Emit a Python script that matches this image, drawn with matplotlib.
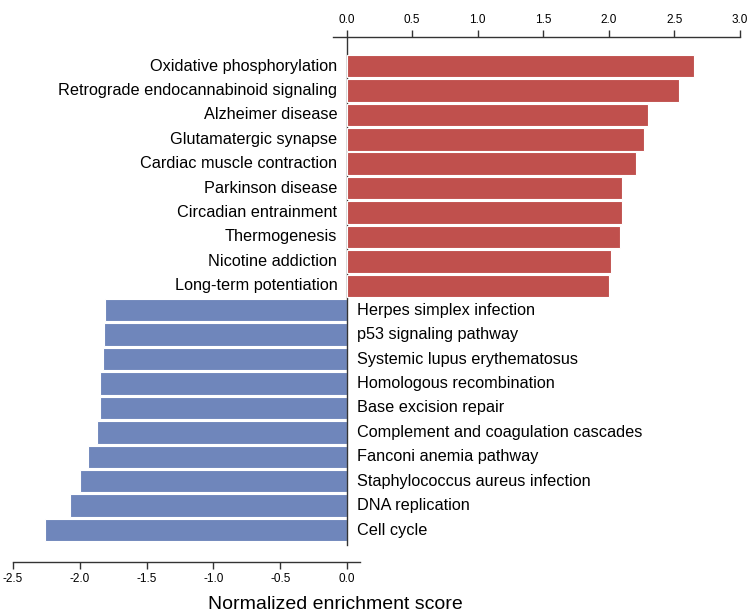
import matplotlib
matplotlib.use("Agg")
import matplotlib.pyplot as plt

# pathways with positive score (red, top) and negative score (blue, bottom)
up_terms = [
    "Oxidative phosphorylation",
    "Retrograde endocannabinoid signaling",
    "Alzheimer disease",
    "Glutamatergic synapse",
    "Cardiac muscle contraction",
    "Parkinson disease",
    "Circadian entrainment",
    "Thermogenesis",
    "Nicotine addiction",
    "Long-term potentiation",
]
up_nes = [2.65, 2.54, 2.30, 2.27, 2.21, 2.10, 2.10, 2.09, 2.02, 2.00]

down_terms = [
    "Herpes simplex infection",
    "p53 signaling pathway",
    "Systemic lupus erythematosus",
    "Homologous recombination",
    "Base excision repair",
    "Complement and coagulation cascades",
    "Fanconi anemia pathway",
    "Staphylococcus aureus infection",
    "DNA replication",
    "Cell cycle",
]
down_nes = [-1.81, -1.82, -1.83, -1.85, -1.85, -1.87, -1.94, -2.00, -2.07, -2.26]

bottom_ticks = [-2.5, -2.0, -1.5, -1.0, -0.5, 0.0]
top_ticks = [0.0, 0.5, 1.0, 1.5, 2.0, 2.5, 3.0]

RED = "#C0504D"
BLUE = "#6F86BB"
AXC = "#333333"
label_font = ["Liberation Sans", "DejaVu Sans"]
tick_font = ["Liberation Sans Narrow", "Liberation Sans", "DejaVu Sans"]

W, H = 750, 612
fig = plt.figure(figsize=(W / 100, H / 100), dpi=100)
rect = [5 / W, 1 - 562 / H, 740 / W, (562 - 37) / H]

# bottom axes: negative scores, top axes: positive scores (slightly different scales)
ax = fig.add_axes(rect)
axt = ax.twiny()

n_up = len(up_terms)
y_up = list(range(n_up))
y_down = list(range(n_up, n_up + len(down_terms)))

ax.barh(y_down, down_nes, height=0.92, color=BLUE, edgecolor="white", linewidth=0.8)
axt.barh(y_up, up_nes, height=0.92, color=RED, edgecolor="white", linewidth=0.8)

for y, t in zip(y_up, up_terms):
    ax.annotate(t, (0, y), xytext=(-7, 0), textcoords="offset points",
                ha="right", va="center", fontsize=11.7, family=label_font)
for y, t in zip(y_down, down_terms):
    ax.annotate(t, (0, y), xytext=(7, 0), textcoords="offset points",
                ha="left", va="center", fontsize=11.7, family=label_font)

ymin, ymax = -1.19, 20.31
ax.set_ylim(ymax, ymin)
ax.set_xlim((5 - 347) / 133.6, (745 - 347) / 133.6)
axt.set_xlim((5 - 346.5) / 131.1, (745 - 346.5) / 131.1)
ax.plot([0, 0], [ymin, 19.6], color=AXC, lw=1.0, zorder=5)

ax.set_yticks([])
for a in (ax, axt):
    for s in a.spines.values():
        s.set_visible(False)
ax.spines["bottom"].set_visible(True)
ax.spines["bottom"].set_bounds(-2.5, 0.1)
axt.spines["top"].set_visible(True)
axt.spines["top"].set_bounds(-0.1, 3.0)
for s in (ax.spines["bottom"], axt.spines["top"]):
    s.set_color(AXC)
    s.set_linewidth(1.0)

ax.set_xticks(bottom_ticks)
ax.set_xticklabels([f"{v:.1f}" for v in bottom_ticks], family=tick_font, fontsize=8.5)
ax.tick_params(axis="x", direction="out", length=5, width=1, color=AXC, pad=3)
axt.set_xticks(top_ticks)
axt.set_xticklabels([f"{v:.1f}" for v in top_ticks], family=tick_font, fontsize=8.5)
axt.tick_params(axis="x", direction="out", length=5, width=1, color=AXC, pad=3)

fig.text(208 / W, 3 / H, "Normalized enrichment score", fontsize=14,
         family=label_font, ha="left", va="baseline")

fig.savefig("out.png", dpi=100)
